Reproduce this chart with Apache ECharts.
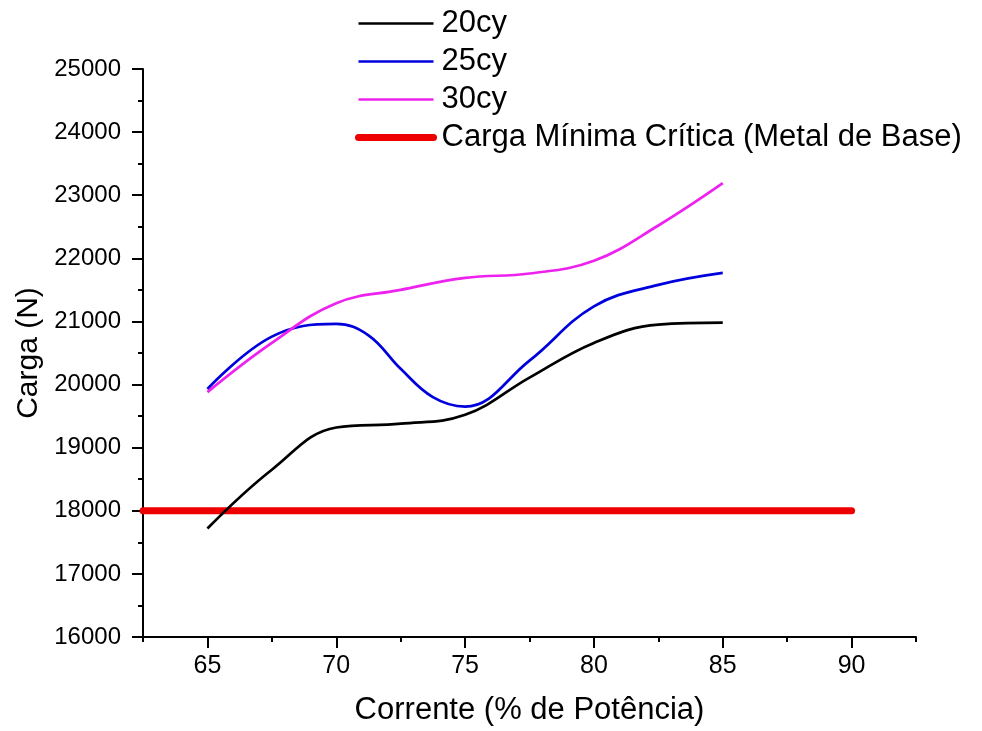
<!DOCTYPE html>
<html>
<head>
<meta charset="utf-8">
<script src="https://cdn.jsdelivr.net/npm/echarts@6/dist/echarts.min.js"></script>
<style>
  html, body { margin: 0; padding: 0; background: #fff; }
  #chart { width: 982px; height: 731px; }
</style>
</head>
<body>
<div id="chart"></div>
<script>
// corrente (% de potência), lida no gráfico a cada 2.5
var corrente = [65, 67.5, 70, 72.5, 75, 77.5, 80, 82.5, 85];
var carga20 = [17720, 18650, 19320, 19380, 19520, 20110, 20660, 20950, 20980];
var carga30 = [19880, 20660, 21290, 21500, 21690, 21760, 21960, 22520, 23190];
// 25cy lida mais fino na descida entre 70 e 75
var corrente25 = [65, 67.5, 70, 71.25, 72.5, 73.75, 75, 77.5, 80, 82.5, 85];
var carga25 = [19930, 20760, 20960, 20780, 20250, 19800, 19650, 20380, 21240, 21580, 21770];
// carga mínima crítica do metal de base
var limiteX = [62.5, 90];
var limiteY = [18000, 18000];

// ticks do eixo x
var xMaiores = [65, 70, 75, 80, 85, 90];
var xMenores = [62.5, 67.5, 72.5, 77.5, 82.5, 87.5, 92.5];

var nomes = ['20cy', '25cy', '30cy', 'Carga Mínima Crítica (Metal de Base)'];
var cores = ['#000000', '#0000dd', '#ee22ee', '#ee0000'];

function pares(xs, ys) {
  return xs.map(function (x, i) { return [x, ys[i]]; });
}

var fonte = 'Liberation Sans, Arial, sans-serif';
var eixo = { color: '#000', width: 2 };

var myChart = echarts.init(document.getElementById('chart'));
myChart.setOption({
  backgroundColor: '#fff',
  animation: false,
  textStyle: { fontFamily: fonte },
  legend: {
    orient: 'vertical',
    left: 355,
    top: 8,
    padding: 0,
    itemWidth: 75,
    itemHeight: 14,
    itemGap: 7,
    itemStyle: { opacity: 0 },
    data: [
      { name: nomes[0], lineStyle: { width: 2.5 } },
      { name: nomes[1], lineStyle: { width: 2.5 } },
      { name: nomes[2], lineStyle: { width: 2.5 } },
      { name: nomes[3], lineStyle: { width: 7, cap: 'round' } }
    ],
    textStyle: { fontSize: 31, color: '#000', lineHeight: 30, padding: [0, 0, 0, 3], fontFamily: fonte }
  },
  grid: { left: 143, right: 66, top: 69, bottom: 89 },
  xAxis: [
    {
      type: 'value',
      min: 62.5,
      max: 92.5,
      interval: 2.5,
      name: 'Corrente (% de Potência)',
      nameLocation: 'middle',
      nameGap: 58,
      nameTextStyle: { fontSize: 31, color: '#000' },
      axisLine: { lineStyle: eixo },
      axisTick: { length: 11, customValues: xMaiores, lineStyle: eixo },
      axisLabel: { fontSize: 25, color: '#000', margin: 17, customValues: xMaiores },
      splitLine: { show: false }
    },
    {
      // só os ticks menores
      type: 'value',
      position: 'bottom',
      min: 62.5,
      max: 92.5,
      interval: 2.5,
      axisLine: { show: false },
      axisTick: { length: 5, customValues: xMenores, lineStyle: eixo },
      axisLabel: { show: false },
      splitLine: { show: false }
    }
  ],
  yAxis: {
    type: 'value',
    min: 16000,
    max: 25000,
    interval: 1000,
    name: 'Carga (N)',
    nameLocation: 'middle',
    nameGap: 98,
    nameTextStyle: { fontSize: 30, color: '#000' },
    axisLine: { show: true, lineStyle: eixo },
    axisTick: { length: 11, lineStyle: eixo },
    minorTick: { show: true, splitNumber: 2, length: 5, lineStyle: eixo },
    axisLabel: {
      fontSize: 24, color: '#000', margin: 22,
      formatter: function (v) { return String(v); }
    },
    splitLine: { show: false }
  },
  series: [
    {
      name: nomes[3],
      type: 'line',
      symbol: 'none',
      data: pares(limiteX, limiteY),
      lineStyle: { color: cores[3], width: 7, cap: 'round' },
      itemStyle: { color: cores[3] }
    },
    {
      name: nomes[0],
      type: 'line',
      smooth: 0.4,
      symbol: 'none',
      data: pares(corrente, carga20),
      lineStyle: { color: cores[0], width: 2.7 },
      itemStyle: { color: cores[0] }
    },
    {
      name: nomes[1],
      type: 'line',
      smooth: 0.4,
      symbol: 'none',
      data: pares(corrente25, carga25),
      lineStyle: { color: cores[1], width: 2.7 },
      itemStyle: { color: cores[1] }
    },
    {
      name: nomes[2],
      type: 'line',
      smooth: 0.4,
      symbol: 'none',
      data: pares(corrente, carga30),
      lineStyle: { color: cores[2], width: 2.7 },
      itemStyle: { color: cores[2] }
    }
  ]
});
</script>
</body>
</html>
